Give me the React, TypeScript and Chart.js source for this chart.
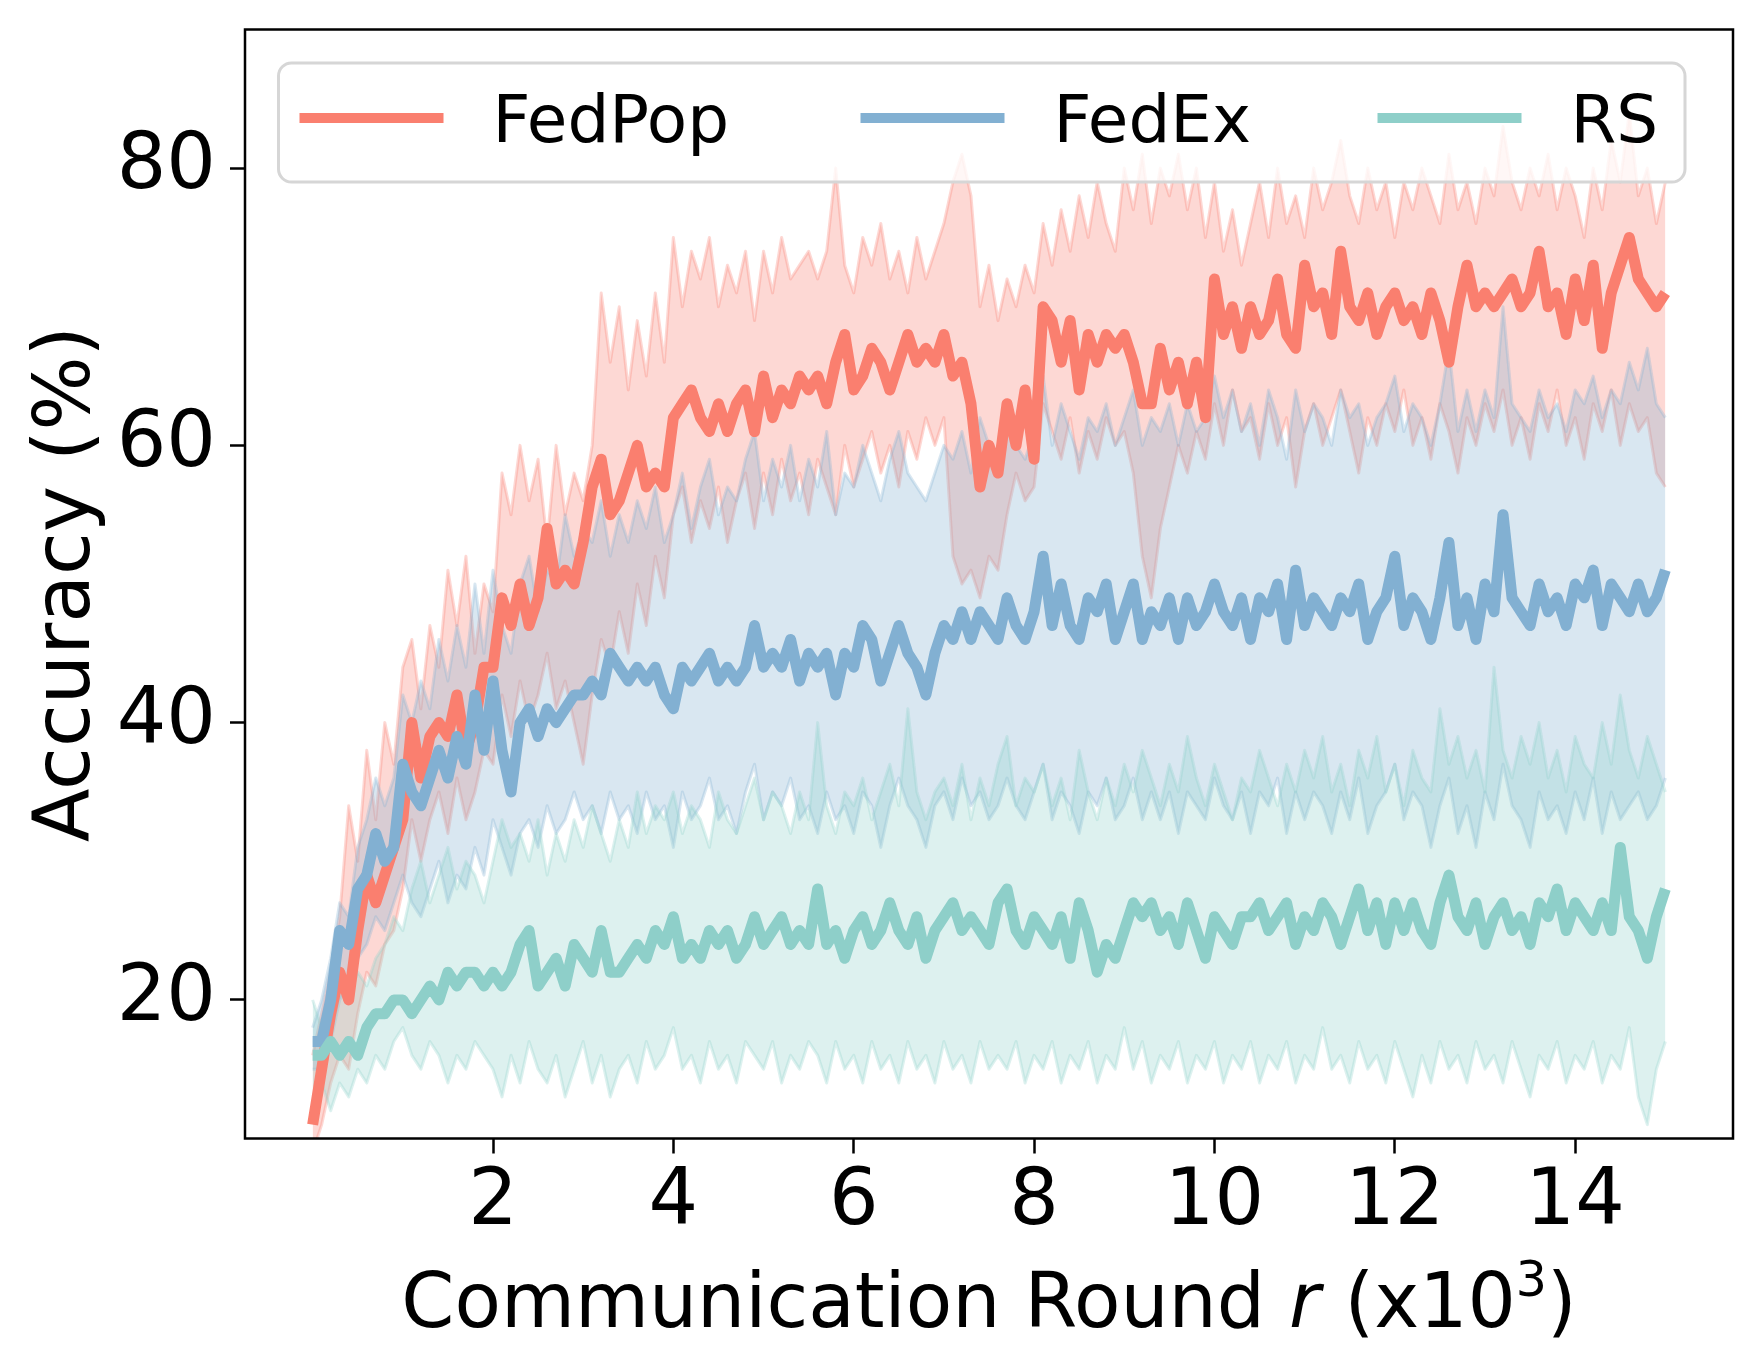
import React, { useEffect, useRef } from "react";
import { Chart, registerables } from "chart.js";

Chart.register(...registerables);

// ---------------- data ----------------
const ROUNDS = [
  0, 0.1, 0.2, 0.3, 0.4, 0.5, 0.6, 0.7, 0.8, 0.9,
  1, 1.1, 1.2, 1.3, 1.4, 1.5, 1.6, 1.7, 1.8, 1.9,
  2, 2.1, 2.2, 2.3, 2.4, 2.5, 2.6, 2.7, 2.8, 2.9,
  3, 3.1, 3.2, 3.3, 3.4, 3.5, 3.6, 3.7, 3.8, 3.9,
  4, 4.1, 4.2, 4.3, 4.4, 4.5, 4.6, 4.7, 4.8, 4.9,
  5, 5.1, 5.2, 5.3, 5.4, 5.5, 5.6, 5.7, 5.8, 5.9,
  6, 6.1, 6.2, 6.3, 6.4, 6.5, 6.6, 6.7, 6.8, 6.9,
  7, 7.1, 7.2, 7.3, 7.4, 7.5, 7.6, 7.7, 7.8, 7.9,
  8, 8.1, 8.2, 8.3, 8.4, 8.5, 8.6, 8.7, 8.8, 8.9,
  9, 9.1, 9.2, 9.3, 9.4, 9.5, 9.6, 9.7, 9.8, 9.9,
  10, 10.1, 10.2, 10.3, 10.4, 10.5, 10.6, 10.7, 10.8, 10.9,
  11, 11.1, 11.2, 11.3, 11.4, 11.5, 11.6, 11.7, 11.8, 11.9,
  12, 12.1, 12.2, 12.3, 12.4, 12.5, 12.6, 12.7, 12.8, 12.9,
  13, 13.1, 13.2, 13.3, 13.4, 13.5, 13.6, 13.7, 13.8, 13.9,
  14, 14.1, 14.2, 14.3, 14.4, 14.5, 14.6, 14.7, 14.8, 14.9,
  15,
];

const SERIES_NAMES = ["FedPop", "FedEx", "RS"];
const SERIES_COLORS = ["#FA7F6F", "#82B0D2", "#8ECFC9"];

const FEDPOP_MEAN = [
  11, 15, 19, 22, 20, 25, 29, 27, 29, 31,
  33, 40, 36, 39, 40, 39, 42, 38, 40, 44,
  44, 49, 47, 50, 47, 49, 54, 50, 51, 50,
  53, 57, 59, 55, 56, 58, 60, 57, 58, 57,
  62, 63, 64, 62, 61, 63, 61, 63, 64, 61,
  65, 62, 64, 63, 65, 64, 65, 63, 66, 68,
  64, 65, 67, 66, 64, 66, 68, 66, 67, 66,
  68, 65, 66, 63, 57, 60, 58, 63, 60, 64,
  59, 70, 69, 66, 69, 64, 68, 66, 68, 67,
  68, 66, 63, 63, 67, 64, 66, 63, 66, 62,
  72, 68, 70, 67, 70, 68, 69, 72, 68, 67,
  73, 70, 71, 68, 74, 70, 69, 71, 68, 70,
  71, 69, 70, 68, 71, 69, 66, 70, 73, 70,
  71, 70, 71, 72, 70, 71, 74, 70, 71, 68,
  72, 69, 73, 67, 71, 73, 75, 72, 71, 70,
  71,
];
const FEDPOP_UPPER = [
  16, 19, 22, 26, 34, 30, 38, 33, 40, 37,
  44, 46, 41, 47, 44, 51, 47, 52, 45, 50,
  48, 58, 55, 60, 56, 59, 53, 60, 55, 58,
  56, 60, 71, 66, 70, 64, 69, 65, 71, 66,
  75, 70, 74, 72, 75, 70, 73, 71, 74, 69,
  74, 71, 75, 72, 73, 74, 72, 74, 80, 73,
  71, 75, 73, 76, 72, 74, 71, 75, 72, 74,
  76, 79, 81, 78, 70, 73, 69, 72, 70, 73,
  71, 76, 73, 77, 74, 78, 75, 79, 76, 74,
  80, 77, 81, 76, 80, 78, 81, 77, 80, 75,
  79, 74, 77, 73, 76, 79, 75, 80, 76, 78,
  75, 80, 77, 79, 82, 78, 76, 80, 77, 79,
  75, 79, 77, 80, 78, 76, 81, 77, 79, 76,
  80, 78, 83, 79, 77, 80, 78, 81, 77, 80,
  78, 75, 80, 77, 82, 79, 84, 78, 80, 76,
  79,
];
const FEDPOP_LOWER = [
  9, 11, 14, 16, 15, 19, 22, 21, 24, 25,
  28, 33, 30, 33, 35, 32, 36, 33, 35, 38,
  37, 42, 39, 43, 40, 42, 45, 41, 43, 40,
  37, 42, 46, 44, 48, 45, 50, 47, 52, 49,
  55, 57, 53, 56, 54, 57, 53, 56, 58, 54,
  58, 55, 59, 56, 58, 55, 59, 57, 55, 60,
  57, 59, 61, 58, 60, 57, 61, 59, 62, 60,
  62, 52, 50, 51, 49, 52, 51, 55, 58, 56,
  57, 63, 61, 59, 62, 58, 61, 59, 62, 60,
  61, 58, 52, 49, 54, 57, 60, 58, 61, 59,
  63, 60, 64, 61, 62, 59, 63, 60, 62, 57,
  61, 63, 60, 62, 64, 61, 58, 62, 60, 63,
  61, 64, 60, 62, 59, 63, 61, 58, 62, 60,
  63, 61, 64, 60, 62, 59, 63, 61, 64, 60,
  62, 59, 63, 61, 64, 60, 63, 61, 62, 58,
  57,
];

const FEDEX_MEAN = [
  17, 17, 20, 25, 24, 28, 29, 32, 30, 31,
  37, 35, 34, 36, 38, 36, 39, 37, 42, 38,
  43, 38, 35, 40, 41, 39, 41, 40, 41, 42,
  42, 43, 42, 45, 44, 43, 44, 43, 44, 42,
  41, 44, 43, 44, 45, 43, 44, 43, 44, 47,
  44, 45, 44, 46, 43, 45, 44, 45, 42, 45,
  44, 47, 46, 43, 45, 47, 45, 44, 42, 45,
  47, 46, 48, 46, 48, 47, 46, 49, 47, 46,
  48, 52, 47, 50, 47, 46, 49, 48, 50, 46,
  48, 50, 46, 48, 47, 49, 46, 49, 47, 48,
  50, 48, 47, 49, 46, 49, 48, 50, 46, 51,
  47, 49, 48, 47, 49, 48, 50, 46, 48, 49,
  52, 47, 49, 48, 46, 49, 53, 47, 49, 46,
  50, 48, 55, 49, 48, 47, 50, 48, 49, 47,
  50, 49, 51, 47, 50, 49, 48, 50, 48, 49,
  51,
];
const FEDEX_UPPER = [
  18, 20, 23, 27, 26, 31, 33, 36, 34, 36,
  42, 40, 43, 41, 46, 43, 47, 44, 50, 45,
  51, 47, 45, 50, 52, 48, 51, 50, 55, 52,
  54, 53, 56, 52, 55, 53, 56, 54, 57, 53,
  55, 58, 54, 57, 59, 55, 57, 56, 59, 61,
  56, 59, 57, 60, 56, 59, 57, 61, 55, 58,
  57, 60, 58, 56, 59, 61, 58, 57, 56, 58,
  60, 59, 61, 58, 62, 60, 58, 62, 60, 59,
  61, 65, 60, 63, 61, 59, 62, 61, 63, 60,
  62, 64, 60, 62, 61, 63, 60, 63, 61, 62,
  65, 62, 64, 61, 63, 60, 64, 62, 59, 64,
  61, 63, 62, 60, 64, 62, 63, 60, 62, 63,
  65, 61, 63, 62, 60, 63, 67, 61, 64, 61,
  64, 62, 70, 63, 62, 61, 64, 62, 63, 61,
  64, 63, 65, 62, 64, 63, 66, 64, 67, 63,
  62,
];
const FEDEX_LOWER = [
  15, 15, 17, 20, 21, 23, 24, 26, 25, 27,
  29, 27, 26, 28, 30, 27, 29, 28, 31, 29,
  33, 31, 29, 32, 33, 31, 34, 32, 33, 35,
  33, 34, 32, 35, 33, 34, 32, 35, 33, 34,
  31, 35, 33, 34, 36, 33, 34, 32, 35, 37,
  33, 35, 34, 36, 33, 34, 32, 35, 33, 34,
  32, 35, 34, 31, 34, 36, 34, 33, 31, 34,
  35, 33, 36, 34, 35, 33, 34, 36, 34, 33,
  35, 37, 33, 35, 34, 32, 35, 34, 36, 33,
  34, 36, 33, 35, 33, 35, 32, 35, 34, 33,
  36, 34, 33, 35, 32, 35, 34, 36, 32, 35,
  33, 35, 34, 32, 35, 33, 36, 32, 34, 35,
  37, 33, 35, 34, 31, 34, 36, 32, 34, 31,
  35, 33, 37, 34, 33, 31, 35, 33, 34, 32,
  35, 33, 36, 32, 35, 33, 34, 35, 33, 34,
  36,
];

const RS_MEAN = [
  16, 16, 17, 16, 17, 16, 18, 19, 19, 20,
  20, 19, 20, 21, 20, 22, 21, 22, 22, 21,
  22, 21, 22, 24, 25, 21, 22, 23, 21, 24,
  23, 22, 25, 22, 22, 23, 24, 23, 25, 24,
  26, 23, 24, 23, 25, 24, 25, 23, 24, 26,
  24, 25, 26, 24, 25, 24, 28, 24, 25, 23,
  25, 26, 24, 25, 27, 25, 24, 26, 23, 25,
  26, 27, 25, 26, 25, 24, 27, 28, 25, 24,
  26, 25, 24, 26, 23, 27, 25, 22, 24, 23,
  25, 27, 26, 27, 25, 26, 24, 27, 25, 23,
  26, 25, 24, 26, 26, 27, 25, 26, 27, 24,
  26, 25, 27, 26, 24, 26, 28, 25, 27, 24,
  27, 25, 27, 25, 24, 27, 29, 26, 25, 27,
  24, 26, 27, 25, 26, 24, 27, 26, 28, 25,
  27, 26, 25, 27, 25, 31, 26, 25, 23, 26,
  28,
];
const RS_UPPER = [
  20, 18, 19, 21, 20, 22, 21, 23, 24, 26,
  25, 28, 30, 27, 29, 31, 28, 30, 29, 27,
  30, 33, 31, 32, 30, 33, 29, 32, 30, 33,
  31, 34, 32, 30, 33, 31, 35, 32, 34, 33,
  35, 32, 34, 33, 31, 35, 33, 32, 34, 36,
  33, 35, 34, 32, 35, 33, 40, 34, 32, 35,
  34, 36, 33, 35, 37, 34, 41, 35, 33, 35,
  36, 34, 37, 33, 36, 34, 37, 39, 34, 36,
  35, 37, 34, 36, 33, 38, 35, 33, 36, 34,
  37, 35, 38, 36, 34, 37, 35, 39, 36, 34,
  37, 35, 33, 36, 35, 38, 36, 34, 37, 35,
  38, 36, 39, 35, 37, 34, 38, 36, 39, 35,
  37, 34, 38, 36, 35, 41, 37, 39, 36, 38,
  35, 44, 38, 36, 39, 37, 40, 36, 38, 35,
  39, 37, 36, 40, 37, 42, 38, 36, 39, 37,
  35,
];
const RS_LOWER = [
  12, 14, 12, 14, 13, 15, 14, 16, 15, 17,
  18, 16, 15, 17, 16, 14, 16, 15, 17, 16,
  15, 13, 16, 14, 17, 15, 14, 16, 13, 15,
  17, 14, 16, 13, 15, 16, 14, 17, 15, 16,
  18, 15, 16, 14, 17, 15, 16, 14, 17, 16,
  15, 17, 14, 16, 15, 17, 16, 14, 17, 15,
  16, 14, 17, 15, 16, 14, 17, 15, 16, 14,
  17, 15, 16, 14, 17, 15, 16, 15, 17, 14,
  16, 15, 17, 14, 16, 15, 17, 14, 16, 15,
  18, 15, 17, 14, 16, 15, 17, 14, 16, 15,
  17, 14, 16, 15, 17, 14, 16, 15, 17, 14,
  16, 15, 18, 15, 16, 14, 17, 15, 16, 14,
  17, 15, 13, 16, 14, 17, 15, 16, 14, 17,
  15, 16, 14, 17, 15, 13, 16, 15, 17, 14,
  16, 15, 17, 14, 16, 15, 18, 13, 11, 15,
  17,
];

const X_TICKS = [2, 4, 6, 8, 10, 12, 14];
const Y_TICKS = [20, 40, 60, 80];
const X_MIN = -0.75;
const X_MAX = 15.75;
const Y_MIN = 10;
const Y_MAX = 90;
const X_TITLE_PARTS = ["Communication Round ", "r", " (x10", "3", ")"];
const Y_TITLE = "Accuracy (%)";

// ---------------- helpers ----------------
const FONT = '"DejaVu Sans", "Liberation Sans", sans-serif';

function rgba(hex: string, a: number) {
  const n = parseInt(hex.slice(1), 16);
  return `rgba(${(n >> 16) & 255},${(n >> 8) & 255},${n & 255},${a})`;
}

function toPoints(ys: number[]) {
  return ROUNDS.map((x, i) => ({ x, y: ys[i] }));
}

const decorPlugin = {
  id: "decor",
  afterDraw(chart: any) {
    const { ctx, chartArea: a } = chart;
    ctx.save();
    // frame (all four spines)
    ctx.strokeStyle = "#000";
    ctx.lineWidth = 2.5;
    ctx.strokeRect(a.left, a.top, a.right - a.left, a.bottom - a.top);

    // y title
    ctx.save();
    ctx.fillStyle = "#000";
    ctx.font = `78px ${FONT}`;
    ctx.translate(89, (a.top + a.bottom) / 2);
    ctx.rotate(-Math.PI / 2);
    ctx.textAlign = "center";
    ctx.textBaseline = "alphabetic";
    ctx.fillText(Y_TITLE, 0, 0);
    ctx.restore();

    // x title with italic r and superscript 3
    const fonts = [
      `76px ${FONT}`,
      `italic 76px ${FONT}`,
      `76px ${FONT}`,
      `49px ${FONT}`,
      `76px ${FONT}`,
    ];
    const rises = [0, 0, 0, 31, 0];
    let total = 0;
    const widths = X_TITLE_PARTS.map((t, i) => {
      ctx.font = fonts[i];
      const w = ctx.measureText(t).width;
      total += w;
      return w;
    });
    let x = (a.left + a.right) / 2 - total / 2;
    const baseY = 1326.5;
    ctx.fillStyle = "#000";
    ctx.textAlign = "left";
    ctx.textBaseline = "alphabetic";
    X_TITLE_PARTS.forEach((t, i) => {
      ctx.font = fonts[i];
      ctx.fillText(t, x, baseY - rises[i]);
      x += widths[i];
    });

    // legend
    const bx = a.left + 33.5;
    const by = 63;
    const bw = 1406.5;
    const bh = 119;
    ctx.beginPath();
    (ctx as any).roundRect(bx, by, bw, bh, 13);
    ctx.fillStyle = "rgba(255,255,255,0.8)";
    ctx.fill();
    ctx.lineWidth = 3;
    ctx.strokeStyle = "#D6D6D6";
    ctx.stroke();

    const handleOffsets = [21, 582, 1099];
    const handleLen = 144;
    const textGap = 193;
    ctx.font = `66px ${FONT}`;
    ctx.textAlign = "left";
    ctx.textBaseline = "alphabetic";
    SERIES_NAMES.forEach((name, i) => {
      const hx = bx + handleOffsets[i];
      ctx.beginPath();
      ctx.moveTo(hx, 118);
      ctx.lineTo(hx + handleLen, 118);
      ctx.lineWidth = 10;
      ctx.lineCap = "butt";
      ctx.strokeStyle = SERIES_COLORS[i];
      ctx.stroke();
      ctx.fillStyle = "#000";
      ctx.fillText(name, hx + textGap, 142);
    });
    ctx.restore();
  },
};

export default function App() {
  const ref = useRef<HTMLCanvasElement | null>(null);

  useEffect(() => {
    if (!ref.current) return;
    const bands = [
      [FEDPOP_UPPER, FEDPOP_LOWER],
      [FEDEX_UPPER, FEDEX_LOWER],
      [RS_UPPER, RS_LOWER],
    ];
    const means = [FEDPOP_MEAN, FEDEX_MEAN, RS_MEAN];
    const datasets: any[] = [];
    bands.forEach(([up, lo], i) => {
      const c = SERIES_COLORS[i];
      datasets.push({
        label: `${SERIES_NAMES[i]} upper`,
        data: toPoints(up),
        borderColor: rgba(c, 0.3),
        backgroundColor: rgba(c, 0.3),
        borderWidth: 3,
        fill: "+1",
        order: 30 - i * 10 + 1,
        clip: 0,
      });
      datasets.push({
        label: `${SERIES_NAMES[i]} lower`,
        data: toPoints(lo),
        borderColor: rgba(c, 0.3),
        borderWidth: 3,
        fill: false,
        order: 30 - i * 10,
        clip: 0,
      });
    });
    means.forEach((m, i) => {
      datasets.push({
        label: SERIES_NAMES[i],
        data: toPoints(m),
        borderColor: SERIES_COLORS[i],
        borderWidth: 11,
        fill: false,
        order: 3 - i,
        clip: 0,
      });
    });

    const tickFont = { family: FONT, size: 78 };
    const chart = new Chart(ref.current, {
      type: "line",
      data: { datasets },
      options: {
        responsive: false,
        animation: false,
        devicePixelRatio: 1,
        layout: { padding: { top: 29.5, right: 29, left: 0, bottom: 0 } },
        elements: {
          point: { radius: 0, hoverRadius: 0 },
          line: { tension: 0, borderJoinStyle: "round", borderCapStyle: "butt" },
        },
        plugins: {
          legend: { display: false },
          tooltip: { enabled: false },
          filler: { propagate: false },
        },
        events: [],
        scales: {
          x: {
            type: "linear",
            min: X_MIN,
            max: X_MAX,
            afterBuildTicks: (s: any) => {
              s.ticks = X_TICKS.map((v) => ({ value: v }));
            },
            afterFit: (s: any) => {
              s.height = 230.5;
              s.paddingLeft = 0;
              s.paddingRight = 0;
              s.paddingTop = 0;
              s.paddingBottom = 0;
            },
            grid: {
              display: true,
              drawOnChartArea: false,
              drawTicks: true,
              tickLength: 15,
              tickWidth: 2.5,
              tickColor: "#000",
            },
            border: { display: false },
            ticks: {
              font: tickFont,
              color: "#000",
              padding: 3,
              maxRotation: 0,
              autoSkip: false,
              callback: (v: any) => String(v),
            },
          },
          y: {
            type: "linear",
            min: Y_MIN,
            max: Y_MAX,
            afterBuildTicks: (s: any) => {
              s.ticks = Y_TICKS.map((v) => ({ value: v }));
            },
            afterFit: (s: any) => {
              s.width = 245;
              s.paddingLeft = 0;
              s.paddingRight = 0;
              s.paddingTop = 0;
              s.paddingBottom = 0;
            },
            grid: {
              display: true,
              drawOnChartArea: false,
              drawTicks: true,
              tickLength: 15,
              tickWidth: 2.5,
              tickColor: "#000",
            },
            border: { display: false },
            ticks: {
              font: tickFont,
              color: "#000",
              padding: 14,
              autoSkip: false,
              callback: (v: any) => String(v),
            },
          },
        },
      },
      plugins: [decorPlugin],
    } as any);
    return () => chart.destroy();
  }, []);

  return (
    <div style={{ position: "fixed", left: 0, top: 0, width: 1762, height: 1369, background: "#fff" }}>
      <canvas ref={ref} width={1762} height={1369} style={{ width: 1762, height: 1369, display: "block" }} />
    </div>
  );
}
